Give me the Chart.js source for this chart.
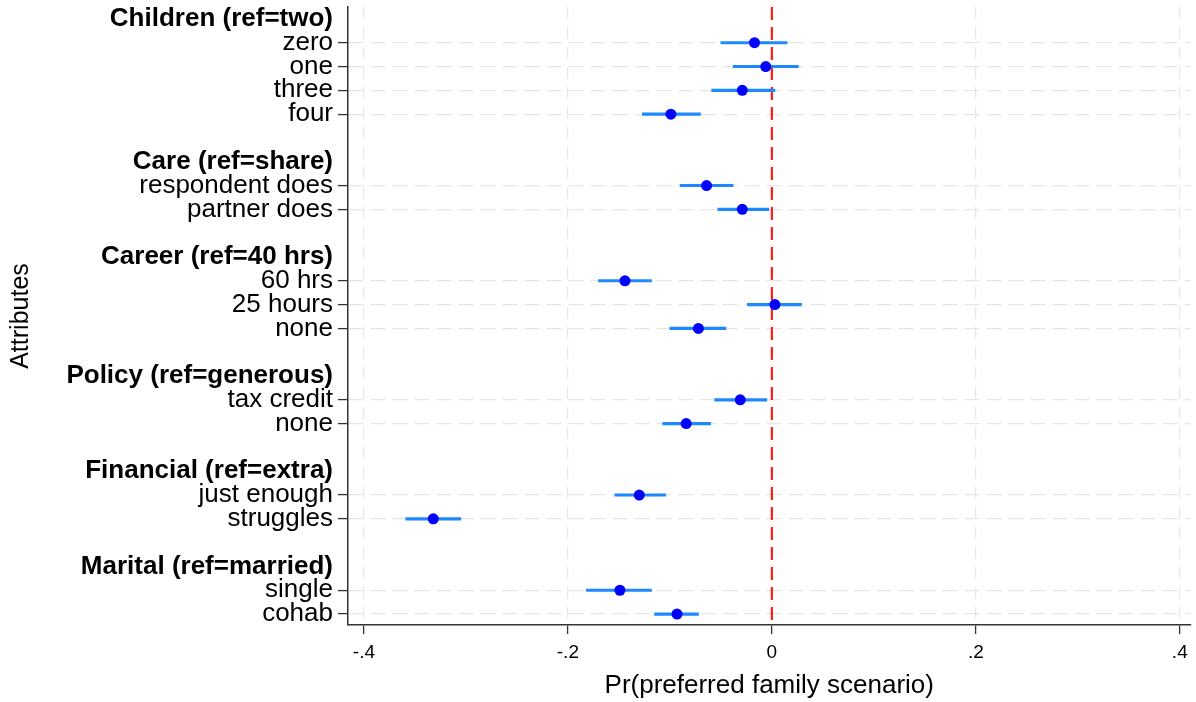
<!DOCTYPE html>
<html>
<head>
<meta charset="utf-8">
<script src="https://cdn.jsdelivr.net/npm/chart.js@4.4.1/dist/chart.umd.min.js"></script>
<style>
  html, body { margin: 0; padding: 0; background: #fff; }
  canvas { display: block; }
</style>
</head>
<body>
<canvas id="coefPlot" width="1196" height="702"></canvas>
<script>
// attribute groups (bold rows) and their levels
const groups = ["Children (ref=two)", "Care (ref=share)", "Career (ref=40 hrs)",
  "Policy (ref=generous)", "Financial (ref=extra)", "Marital (ref=married)"];
const levels = [
  ["zero", "one", "three", "four"],
  ["respondent does", "partner does"],
  ["60 hrs", "25 hours", "none"],
  ["tax credit", "none"],
  ["just enough", "struggles"],
  ["single", "cohab"]
];
// estimates and CI ends, same order as the levels above
const estimates = [-0.017, -0.006, -0.029, -0.099, -0.064, -0.029, -0.144, 0.003, -0.072,
  -0.031, -0.084, -0.130, -0.332, -0.149, -0.093];
const ciLow = [-0.050, -0.038, -0.059, -0.127, -0.090, -0.053, -0.170, -0.024, -0.100,
  -0.056, -0.107, -0.154, -0.359, -0.182, -0.115];
const ciHigh = [0.015, 0.026, 0.003, -0.070, -0.038, -0.003, -0.118, 0.029, -0.045,
  -0.005, -0.060, -0.104, -0.305, -0.118, -0.072];
const xTicks = [-0.4, -0.2, 0, 0.2, 0.4];

const FONT = '"Liberation Sans", Arial, Helvetica, sans-serif';

// rows top to bottom: header, its levels, then one empty row
const rows = [];
let pos = 0, k = 0;
groups.forEach((g, gi) => {
  rows.push({ pos: pos++, label: g, header: true });
  levels[gi].forEach(lv => {
    rows.push({ pos: pos++, label: lv, header: false, est: estimates[k], lo: ciLow[k], hi: ciHigh[k] });
    k++;
  });
  pos++;
});
const items = rows.filter(r => !r.header);
const yMin = -0.5;
const yMax = rows[rows.length - 1].pos + 0.46;
const isHeader = ctx => !!(rows[ctx.index] && rows[ctx.index].header);

const fmt = v => v === 0 ? "0" : v.toFixed(1).replace("0.", ".");

new Chart(document.getElementById("coefPlot"), {
  type: "scatter",
  data: {
    datasets: [
      {
        type: "line",
        data: [{ x: 0, y: yMin }, { x: 0, y: yMax }],
        borderColor: "#ff1a1a",
        borderWidth: 2.2,
        borderDash: [13, 7],
        pointRadius: 0,
        order: 3
      },
      {
        type: "bar",
        indexAxis: "y",
        data: items.map(r => ({ x: [r.lo, r.hi], y: r.pos })),
        backgroundColor: "#1e88ff",
        borderWidth: 0,
        barThickness: 2.5,
        order: 2
      },
      {
        type: "scatter",
        data: items.map(r => ({ x: r.est, y: r.pos })),
        pointRadius: 5.5,
        pointHoverRadius: 5.5,
        backgroundColor: "#0000ff",
        borderWidth: 0,
        order: 1
      }
    ]
  },
  options: {
    responsive: false,
    animation: false,
    layout: { padding: { top: 7, right: 3, left: 0, bottom: 0 } },
    plugins: { legend: { display: false }, tooltip: { enabled: false } },
    scales: {
      x: {
        type: "linear",
        min: -0.4156,
        max: 0.4105,
        offset: false,
        afterBuildTicks: s => { s.ticks = xTicks.map(v => ({ value: v })); },
        afterFit: s => { s.height = 77; s.paddingLeft = 0; s.paddingRight = 0; },
        grid: {
          color: "#e6e6e6",
          lineWidth: 1.2,
          offset: false,
          tickColor: "#333",
          tickLength: 9,
          tickWidth: 1.3,
          tickBorderDash: []
        },
        border: { color: "#333", width: 1.5, dash: [12, 8] },
        ticks: {
          color: "#000",
          font: { family: FONT, size: 19 },
          padding: 7,
          maxRotation: 0,
          callback: v => fmt(v)
        },
        title: {
          display: true,
          text: "Pr(preferred family scenario)",
          color: "#000",
          font: { family: FONT, size: 26 },
          padding: { top: 0, bottom: 1 }
        }
      },
      y: {
        type: "linear",
        reverse: true,
        min: yMin,
        max: yMax,
        offset: false,
        afterBuildTicks: s => { s.ticks = rows.map(r => ({ value: r.pos })); },
        afterFit: s => { s.width = 348; s.paddingTop = 0; s.paddingBottom = 0; },
        grid: {
          color: ctx => isHeader(ctx) ? "rgba(0,0,0,0)" : "#e6e6e6",
          lineWidth: 1.2,
          offset: false,
          tickColor: ctx => isHeader(ctx) ? "rgba(0,0,0,0)" : "#333",
          tickLength: 10,
          tickWidth: 1.3,
          tickBorderDash: []
        },
        border: { color: "#333", width: 1.5, dash: [15, 7] },
        ticks: {
          autoSkip: false,
          color: "#000",
          padding: 5,
          font: ctx => ({ family: FONT, size: 26, lineHeight: 1, weight: isHeader(ctx) ? "bold" : "normal" }),
          callback: (v, i) => rows[i] ? rows[i].label : ""
        },
        title: {
          display: true,
          text: "Attributes",
          color: "#000",
          font: { family: FONT, size: 25 },
          padding: { top: 6, bottom: 0 }
        }
      }
    }
  }
});
</script>
</body>
</html>
